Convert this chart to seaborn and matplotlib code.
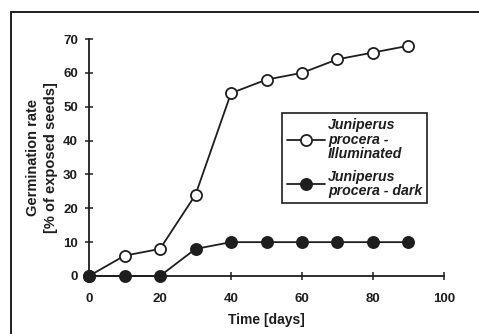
import matplotlib
matplotlib.use("Agg")
import matplotlib.pyplot as plt
from matplotlib.lines import Line2D
import seaborn as sns
import pandas as pd

days = [0, 10, 20, 30, 40, 50, 60, 70, 80, 90]
illuminated = [0, 6, 8, 24, 54, 58, 60, 64, 66, 68]
dark = [0, 0, 0, 8, 10, 10, 10, 10, 10, 10]
label_illum = "Juniperus\nprocera -\nIlluminated"
label_dark = "Juniperus\nprocera - dark"
xticks = [0, 20, 40, 60, 80, 100]
yticks = [0, 10, 20, 30, 40, 50, 60, 70]

sns.set_style("ticks")
plt.rcParams['font.family'] = ['Liberation Sans', 'DejaVu Sans']

INK = "#1e1e1e"
fig = plt.figure(figsize=(4.79, 3.34), dpi=100)
ax = fig.add_axes([89/479, 1-276/334, (444-89)/479, (276-39)/334])

df1 = pd.DataFrame({"x": days, "y": illuminated})
df2 = pd.DataFrame({"x": days, "y": dark})
sns.lineplot(data=df1, x="x", y="y", ax=ax, color=INK, lw=1.3,
             marker="o", markersize=8, markerfacecolor="white",
             markeredgecolor=INK, markeredgewidth=1.3, zorder=3)
sns.lineplot(data=df2, x="x", y="y", ax=ax, color=INK, lw=1.3,
             marker="o", markersize=8, markerfacecolor=INK,
             markeredgecolor=INK, markeredgewidth=1.3, zorder=4)

ax.set_xlim(0, 100)
ax.set_ylim(0, 70)
ax.set_xticks(xticks)
ax.set_yticks(yticks)
ax.set_xticklabels([str(t) for t in xticks], fontweight="bold", fontsize=9.5, color=INK)
ax.set_yticklabels([str(t) for t in yticks], fontweight="bold", fontsize=9.5, color=INK)
ax.tick_params(direction="inout", length=6, width=1.1, color=INK)
ax.tick_params(axis="x", pad=9)
ax.tick_params(axis="y", pad=5)
for s in ["top", "right"]:
    ax.spines[s].set_visible(False)
for s in ["left", "bottom"]:
    ax.spines[s].set_linewidth(1.3)
    ax.spines[s].set_color(INK)
ax.margins(0)
for l in ax.lines:
    l.set_clip_on(False)

ax.set_xlabel("Time [days]", fontweight="bold", fontsize=10, color=INK, labelpad=6)
ax.set_ylabel("Germination rate\n[% of exposed seeds]", fontweight="bold", fontsize=10.5,
              color=INK, labelpad=3.5, linespacing=1.4)

handles = [
    Line2D([], [], color=INK, lw=1.3, marker="o", markersize=8,
           markerfacecolor="white", markeredgecolor=INK, markeredgewidth=1.3),
    Line2D([], [], color=INK, lw=1.3, marker="o", markersize=8,
           markerfacecolor=INK, markeredgecolor=INK, markeredgewidth=1.3),
]
leg = ax.legend(handles, [label_illum, label_dark], loc="upper left",
                bbox_to_anchor=((282-89)/355, (276-113)/237), frameon=True,
                fancybox=False, edgecolor=INK, framealpha=1,
                prop={"weight": "bold", "style": "italic", "size": 10.2},
                handlelength=2.7, handletextpad=0.2, borderpad=0.35,
                labelspacing=0.6, borderaxespad=0)
leg.get_frame().set_linewidth(1.2)
for t in leg.get_texts():
    t.set_color(INK)
    t.set_linespacing(1.05)

# scanned figure border (top and left)
fig.add_artist(Line2D([11/479, 11/479], [0, 1-12/334], transform=fig.transFigure,
                      color=INK, lw=1.4))
fig.add_artist(Line2D([11/479, 1], [1-12/334, 1-12/334], transform=fig.transFigure,
                      color=INK, lw=1.4))

fig.savefig("out.png", dpi=100)
